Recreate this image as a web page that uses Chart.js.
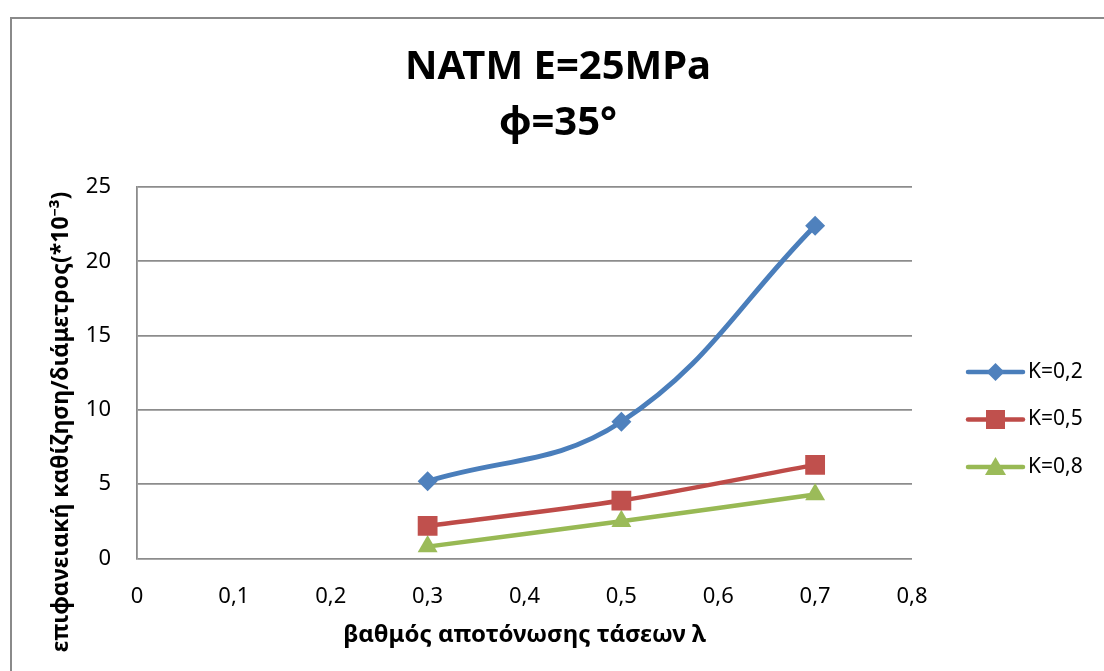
<!DOCTYPE html>
<html>
<head>
<meta charset="utf-8">
<script src="https://cdn.jsdelivr.net/npm/chart.js@4/dist/chart.umd.min.js"></script>
<style>
  html, body { margin: 0; padding: 0; background: #fff; overflow: hidden; }
  #frame { position: absolute; left: 10px; top: 17px; width: 1200px; height: 800px;
           border-left: 2px solid #8a8a8a; border-top: 2px solid #8a8a8a; }
  #box { position: absolute; left: 12px; top: 19px; width: 1092px; height: 652px; }
</style>
</head>
<body>
<div id="frame"></div>
<div id="box"><canvas id="chart"></canvas></div>
<script>
// values
var lambda = [0.3, 0.5, 0.7];
var k02 = [5.2, 9.2, 22.4];
var k05 = [2.2, 3.9, 6.3];
var k08 = [0.8, 2.5, 4.3];
var seriesNames = ["K=0,2", "K=0,5", "K=0,8"];
var titleLines = ["NATM E=25MPa", "\u03C6=35\u00B0"];
var xTitle = "βαθμός αποτόνωσης τάσεων λ";
var yTitle = "επιφανειακή καθίζηση/διάμετρος(*10\u207B\u00B3)";

var FONT = "'Noto Sans', 'DejaVu Sans', sans-serif";

function pts(ys) {
    return lambda.map(function(x, i) { return {x: x, y: ys[i]}; });
}
function comma(v) {
    var r = Math.round(v * 10) / 10;
    return String(r).replace('.', ',');
}

// empty box on the right so the title stays centred on the whole canvas
var rightSpace = {
    id: 'rightSpace',
    beforeInit: function(chart) {
        Chart.layouts.addBox(chart, {
            position: 'right', weight: 0, fullSize: false, options: {},
            left: 0, top: 0, right: 0, bottom: 0, width: 0, height: 0,
            isHorizontal: function() { return false; },
            update: function(maxWidth, maxHeight) { this.width = 192; this.height = maxHeight; },
            draw: function() {}
        });
    }
};

// legend (line with marker in the middle) and the rotated y title
var extras = {
    id: 'extras',
    afterDraw: function(chart) {
        var ctx = chart.ctx, area = chart.chartArea;
        var x0 = area.right + 56, len = 55;
        chart.data.datasets.forEach(function(ds, i) {
            var y = area.top + 185 + i * 47.5;
            ctx.save();
            ctx.strokeStyle = ds.borderColor;
            ctx.lineWidth = 4.5;
            ctx.lineCap = 'round';
            ctx.beginPath();
            ctx.moveTo(x0, y);
            ctx.lineTo(x0 + len, y);
            ctx.stroke();
            var cx = x0 + len / 2;
            ctx.fillStyle = ds.pointBackgroundColor;
            ctx.beginPath();
            if (ds.pointStyle === 'rectRot') {
                ctx.moveTo(cx, y - 9); ctx.lineTo(cx + 9, y); ctx.lineTo(cx, y + 9); ctx.lineTo(cx - 9, y);
            } else if (ds.pointStyle === 'rect') {
                ctx.rect(cx - 9.5, y - 9.5, 19, 19);
            } else {
                ctx.moveTo(cx, y - 10); ctx.lineTo(cx + 10.5, y + 8); ctx.lineTo(cx - 10.5, y + 8);
            }
            ctx.closePath();
            ctx.fill();
            ctx.fillStyle = '#000';
            ctx.font = '21px ' + FONT;
            ctx.textBaseline = 'middle';
            ctx.textAlign = 'left';
            ctx.fillText(ds.label, x0 + len + 5, y);
            ctx.restore();
        });

        ctx.save();
        ctx.translate(area.left - 76, area.top + 235);
        ctx.rotate(-Math.PI / 2);
        ctx.fillStyle = '#000';
        ctx.font = 'bold 23px ' + FONT;
        ctx.textAlign = 'center';
        ctx.textBaseline = 'middle';
        ctx.fillText(yTitle, 0, 0);
        ctx.restore();
    }
};

new Chart(document.getElementById("chart"), {
    type: 'scatter',
    data: {
        datasets: [{
            label: seriesNames[0],
            data: pts(k02),
            borderColor: "#4A7EBB",
            backgroundColor: "#4F81BD",
            pointBackgroundColor: "#4F81BD",
            pointBorderWidth: 0,
            pointStyle: 'rectRot',
            pointRadius: 10,
            borderWidth: 5,
            showLine: true,
            tension: 0.4
        }, {
            label: seriesNames[1],
            data: pts(k05),
            borderColor: "#BE4B48",
            backgroundColor: "#C0504D",
            pointBackgroundColor: "#C0504D",
            pointBorderWidth: 0,
            pointStyle: 'rect',
            pointRadius: 14,
            borderWidth: 4.5,
            showLine: true,
            tension: 0.3
        }, {
            label: seriesNames[2],
            data: pts(k08),
            borderColor: "#98B954",
            backgroundColor: "#9BBB59",
            pointBackgroundColor: "#9BBB59",
            pointBorderWidth: 0,
            pointStyle: 'triangle',
            pointRadius: 11.5,
            borderWidth: 4.5,
            showLine: true,
            tension: 0.3
        }]
    },
    options: {
        responsive: true,
        maintainAspectRatio: false,
        animation: false,
        layout: { padding: 0 },
        plugins: {
            legend: { display: false },
            tooltip: { enabled: false },
            title: {
                display: true,
                text: titleLines,
                color: '#000',
                font: { family: FONT, size: 40, weight: 'bold', lineHeight: 1.4 },
                padding: { top: 21, bottom: 35 }
            }
        },
        scales: {
            x: {
                type: 'linear',
                min: 0, max: 0.8,
                afterFit: function(s) { s.height = 112.5; },
                ticks: {
                    stepSize: 0.1, color: '#000', padding: 25,
                    font: { family: FONT, size: 22 },
                    callback: function(v) { return comma(v); }
                },
                grid: { display: false, drawTicks: false },
                border: { display: false },
                title: {
                    display: true, text: xTitle, color: '#000',
                    font: { family: FONT, size: 24, weight: 'bold', lineHeight: 1.2 },
                    padding: { top: 0, bottom: 21 }
                }
            },
            y: {
                min: 0, max: 25,
                afterFit: function(s) { s.width = 125; },
                ticks: {
                    stepSize: 5, color: '#000', padding: 26,
                    font: { family: FONT, size: 22 }
                },
                grid: { color: '#8c8c8c', lineWidth: 1.8, drawTicks: false },
                border: { display: true, color: '#8c8c8c', width: 1.8 },
                title: { display: false }
            }
        }
    },
    plugins: [rightSpace, extras]
});
</script>
</body>
</html>
